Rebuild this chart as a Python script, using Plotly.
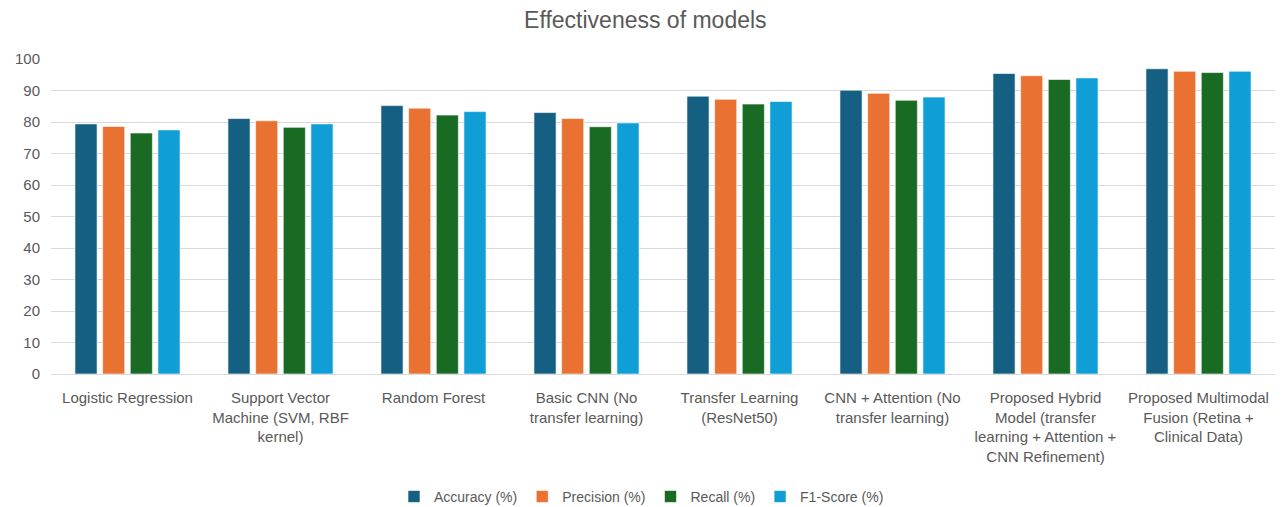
import plotly.graph_objects as go

# Model names shown on the category axis (wrapped as in the chart)
models = [
    "Logistic Regression",
    "Support Vector<br>Machine (SVM, RBF<br>kernel)",
    "Random Forest",
    "Basic CNN (No<br>transfer learning)",
    "Transfer Learning<br>(ResNet50)",
    "CNN + Attention (No<br>transfer learning)",
    "Proposed Hybrid<br>Model (transfer<br>learning + Attention +<br>CNN Refinement)",
    "Proposed Multimodal<br>Fusion (Retina +<br>Clinical Data)",
]

accuracy = [79.4, 81.1, 85.2, 83.0, 88.2, 90.1, 95.4, 96.9]
precision = [78.6, 80.4, 84.4, 81.1, 87.2, 89.1, 94.7, 96.1]
recall = [76.5, 78.3, 82.2, 78.5, 85.7, 86.9, 93.5, 95.7]
f1_score = [77.5, 79.4, 83.3, 79.7, 86.5, 87.9, 94.0, 96.1]

series = [
    ("Accuracy (%)", accuracy, "#156082"),
    ("Precision (%)", precision, "#E97132"),
    ("Recall (%)", recall, "#196B24"),
    ("F1-Score (%)", f1_score, "#0F9ED5"),
]

FONT = "Liberation Sans, Arial, sans-serif"
GREY = "#595959"

fig = go.Figure()
for name, vals, color in series:
    fig.add_trace(go.Bar(
        name=name, x=models, y=vals,
        marker=dict(color=color, line=dict(color="rgba(255,255,255,0.6)", width=1)),
    ))

fig.update_layout(
    width=1283, height=507,
    margin=dict(l=51, r=8, t=59, b=133, autoexpand=False),
    paper_bgcolor="white", plot_bgcolor="white",
    barmode="group", bargap=0.277, bargroupgap=0.2,
    font=dict(family=FONT, color=GREY, size=15),
    title=dict(text="Effectiveness of models", x=0.503, xref="container",
               y=0.96, yref="container", yanchor="middle",
               font=dict(family=FONT, size=23, color=GREY)),
    legend=dict(orientation="h", x=0.5, xref="container", xanchor="center",
                y=0.02, yref="container", yanchor="middle",
                font=dict(family=FONT, size=14, color=GREY),
                itemwidth=30, traceorder="normal"),
    showlegend=True,
)
fig.update_yaxes(range=[0, 100], dtick=10, showgrid=True, gridcolor="#d9d9d9",
                 gridwidth=1, zeroline=False, ticks="", ticklabelstandoff=10,
                 automargin=False, tickfont=dict(size=15, color=GREY))
fig.update_xaxes(showline=True, linecolor="#d9d9d9", linewidth=1, ticks="",
                 tickangle=0, ticklabelstandoff=10, automargin=False,
                 tickfont=dict(size=15, color=GREY))

fig.write_html("out.html")
